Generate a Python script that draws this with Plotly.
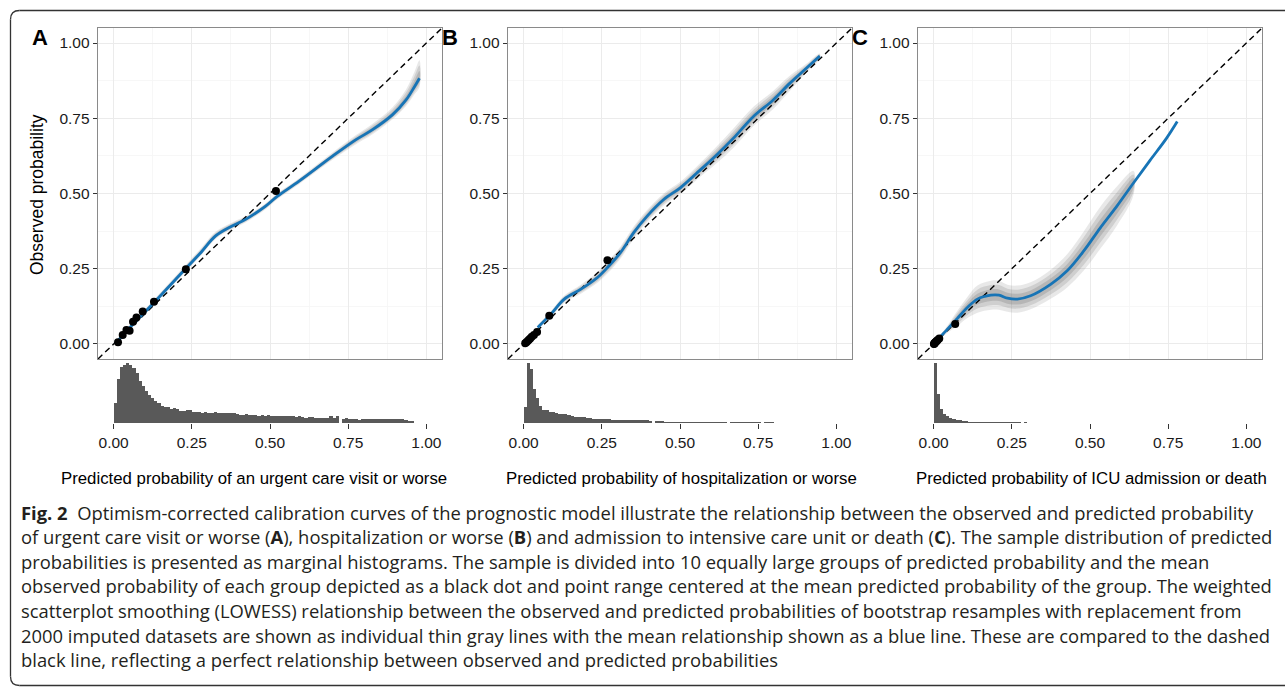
import plotly.graph_objects as go

W, H = 1285, 687

# ---------------- data ----------------
# Panel A: urgent care visit or worse
a_curve_x = [0.005, 0.05, 0.134, 0.23, 0.28, 0.326, 0.379, 0.422, 0.486, 0.524, 0.593, 0.70, 0.775, 0.828, 0.892, 0.935, 0.962, 0.978]
a_curve_y = [0.000, 0.052, 0.143, 0.250, 0.305, 0.359, 0.392, 0.414, 0.458, 0.491, 0.541, 0.624, 0.679, 0.712, 0.762, 0.811, 0.855, 0.883]
a_band_hi = [0.005, 0.008, 0.010, 0.012, 0.014, 0.014, 0.012, 0.010, 0.010, 0.010, 0.010, 0.012, 0.015, 0.020, 0.025, 0.035, 0.050, 0.060]
a_band_lo = [0.005, 0.008, 0.008, 0.010, 0.010, 0.010, 0.010, 0.010, 0.010, 0.010, 0.010, 0.012, 0.015, 0.015, 0.015, 0.020, 0.025, 0.030]
a_pts_x = [0.014, 0.029, 0.041, 0.051, 0.062, 0.073, 0.093, 0.129, 0.231, 0.519]
a_pts_y = [0.006, 0.030, 0.046, 0.044, 0.074, 0.088, 0.108, 0.140, 0.248, 0.508]
a_hist = [34, 73, 94, 97, 100, 97, 92, 83, 70, 61, 54, 47, 41, 37, 33, 29, 27, 26, 24, 25,
          24, 20, 20, 21, 22, 19, 18, 18, 17, 18, 17, 17, 18, 16, 17, 17, 16, 17, 16, 15,
          14, 14, 15, 14, 14, 13, 12, 13, 12, 13, 12, 11, 12, 11, 11, 12, 11, 11, 10, 11,
          10, 9, 10, 10, 9, 9, 8, 9, 8, 11, 8, 12, 0, 7, 9, 7, 7, 6, 5, 6,
          6, 6, 7, 6, 6, 6, 7, 6, 7, 6, 7, 6, 6, 5, 3, 3]

# Panel B: hospitalization or worse
b_curve_x = [0.045, 0.087, 0.13, 0.183, 0.236, 0.268, 0.31, 0.352, 0.395, 0.448, 0.501, 0.554, 0.618, 0.671, 0.735, 0.798, 0.851, 0.904, 0.947]
b_curve_y = [0.055, 0.099, 0.149, 0.182, 0.221, 0.254, 0.304, 0.370, 0.425, 0.480, 0.519, 0.568, 0.629, 0.684, 0.756, 0.811, 0.866, 0.916, 0.957]
b_band = [0.008, 0.010, 0.012, 0.015, 0.018, 0.020, 0.020, 0.020, 0.020, 0.020, 0.020, 0.022, 0.028, 0.032, 0.032, 0.030, 0.025, 0.015, 0.008]
b_pts_x = [0.005, 0.009, 0.013, 0.017, 0.021, 0.026, 0.033, 0.043, 0.082, 0.268]
b_pts_y = [0.002, 0.006, 0.010, 0.014, 0.018, 0.024, 0.030, 0.040, 0.094, 0.278]
b_hist = [27, 100, 90, 57, 41, 28, 22, 21, 19, 18, 17, 15.5, 14.5, 14.5, 13, 12, 10, 10, 10, 9.5,
          9, 8.5, 7, 7, 6, 6.5, 6, 6, 5.5, 5.5, 5.5, 5.5, 5.5, 5, 5.5, 5, 4.5, 5, 4.5, 5.5,
          4, 0, 3.5, 3.5, 3, 2.5, 2.5, 2, 2, 2, 1.5, 1.5, 1.5, 1.5, 1.5, 1.5, 1.5, 1.5, 2, 2,
          1.5, 2, 2, 1.5, 2, 0, 1.5, 1.5, 1.5, 1, 1, 1.5, 1, 1.5, 1.5, 1, 0, 1.5, 1.5, 1,
          0, 0, 0, 0, 0.8]

# Panel C: ICU admission or death
c_curve_x = [0.015, 0.045, 0.076, 0.108, 0.14, 0.183, 0.209, 0.236, 0.268, 0.31, 0.374, 0.427, 0.48, 0.533, 0.586, 0.639, 0.692, 0.745, 0.779]
c_curve_y = [0.017, 0.050, 0.085, 0.121, 0.149, 0.162, 0.162, 0.152, 0.149, 0.160, 0.198, 0.243, 0.309, 0.386, 0.458, 0.535, 0.610, 0.684, 0.739]
c_band = [0.005, 0.012, 0.025, 0.035, 0.045, 0.048, 0.048, 0.045, 0.045, 0.045, 0.048, 0.055, 0.065, 0.070, 0.065, 0.040]
c_pts_x = [0.001, 0.002, 0.003, 0.004, 0.006, 0.008, 0.010, 0.013, 0.018, 0.069]
c_pts_y = [0.000, 0.001, 0.002, 0.004, 0.006, 0.008, 0.010, 0.013, 0.018, 0.066]
c_hist = [100, 49, 24, 15.5, 11, 8.3, 6.7, 5.5, 4.4, 3.9, 3.3, 2.5, 2.2, 2, 1.8, 1.7, 1.5, 1.4, 1.3, 1.3,
          1.2, 1.1, 1.1, 1, 1, 1, 0.9, 0.9, 0.8, 0.9, 0.8, 0.8, 0.7, 0.6, 0.6, 0, 0.6, 0.5, 0.5, 0,
          0.5, 0, 0.4, 0, 0, 0.4]

bin_width = 0.01
tick_vals = [0, 0.25, 0.5, 0.75, 1.0]
tick_text = ["0.00", "0.25", "0.50", "0.75", "1.00"]
panel_letters = ["A", "B", "C"]
x_titles = ["Predicted probability of an urgent care visit or worse",
            "Predicted probability of hospitalization or worse",
            "Predicted probability of ICU admission or death"]
y_title = "Observed probability"
caption_lines = [
    "<b>Fig. 2</b>  Optimism-corrected calibration curves of the prognostic model illustrate the relationship between the observed and predicted probability",
    "of urgent care visit or worse (<b>A</b>), hospitalization or worse (<b>B</b>) and admission to intensive care unit or death (<b>C</b>). The sample distribution of predicted",
    "probabilities is presented as marginal histograms. The sample is divided into 10 equally large groups of predicted probability and the mean",
    "observed probability of each group depicted as a black dot and point range centered at the mean predicted probability of the group. The weighted",
    "scatterplot smoothing (LOWESS) relationship between the observed and predicted probabilities of bootstrap resamples with replacement from",
    "2000 imputed datasets are shown as individual thin gray lines with the mean relationship shown as a blue line. These are compared to the dashed",
    "black line, reflecting a perfect relationship between observed and predicted probabilities",
]

# ---------------- layout helpers ----------------
def fx(x):
    return x / W


def fy(y):
    return 1 - y / H


BLUE = "#1774b6"
FONT = "Liberation Sans, Arial, sans-serif"
CAP_FONT = "Open Sans, Noto Sans, sans-serif"
RANGE = [-0.05, 1.05]

panels = [
    dict(cx=a_curve_x, cy=a_curve_y, hi=a_band_hi, lo=a_band_lo, px=a_pts_x, py=a_pts_y, hist=a_hist, left=98, title_c=254),
    dict(cx=b_curve_x, cy=b_curve_y, hi=b_band, lo=b_band, px=b_pts_x, py=b_pts_y, hist=b_hist, left=508, title_c=681),
    dict(cx=c_curve_x, cy=c_curve_y, hi=c_band, lo=c_band, px=c_pts_x, py=c_pts_y, hist=c_hist, left=918, title_c=1091),
]
PW = 344
MAIN_TOP, MAIN_BOT = 28, 359
HIST_TOP, HIST_BOT = 363, 423

fig = go.Figure()
layout = dict(
    width=W, height=H, margin=dict(l=0, r=0, t=0, b=0),
    paper_bgcolor="white", plot_bgcolor="white", showlegend=False,
    bargap=0, hovermode=False,
)
annotations = []
shapes = []

for i, p in enumerate(panels):
    mi = 2 * i + 1
    hi_ = 2 * i + 2
    mx = "x" if mi == 1 else f"x{mi}"
    my = "y" if mi == 1 else f"y{mi}"
    hx = f"x{hi_}"
    hy = f"y{hi_}"
    dom_x = [fx(p["left"]), fx(p["left"] + PW)]

    # gray bootstrap band (soft layered fills)
    n = min(len(p["hi"]), len(p["cx"]))
    bx = p["cx"][:n]
    by = p["cy"][:n]
    for scale, alpha in [(1.0, 0.17), (0.7, 0.22), (0.4, 0.28)]:
        upper = [y + scale * h for y, h in zip(by, p["hi"][:n])]
        lower = [y - scale * l for y, l in zip(by, p["lo"][:n])]
        fig.add_trace(go.Scatter(
            x=bx + bx[::-1], y=upper + lower[::-1], fill="toself",
            fillcolor=f"rgba(120,120,120,{alpha})", line=dict(width=0, shape="spline"),
            mode="lines", hoverinfo="skip", xaxis=mx, yaxis=my))

    # diagonal reference
    fig.add_trace(go.Scatter(x=RANGE, y=RANGE, mode="lines",
                             line=dict(color="black", width=1.4, dash="6px,4px"),
                             xaxis=mx, yaxis=my))
    # mean calibration curve
    fig.add_trace(go.Scatter(x=p["cx"], y=p["cy"], mode="lines",
                             line=dict(color=BLUE, width=2.8, shape="spline"),
                             xaxis=mx, yaxis=my))
    # group points
    fig.add_trace(go.Scatter(x=p["px"], y=p["py"], mode="markers",
                             marker=dict(color="black", size=8),
                             xaxis=mx, yaxis=my))
    # histogram
    centers = [bin_width / 2 + bin_width * k for k in range(len(p["hist"]))]
    fig.add_trace(go.Bar(x=centers, y=p["hist"], width=bin_width,
                         marker=dict(color="#595959", line=dict(width=0)),
                         xaxis=hx, yaxis=hy))

    main_x_key = "xaxis" if mi == 1 else f"xaxis{mi}"
    main_y_key = "yaxis" if mi == 1 else f"yaxis{mi}"
    minor = dict(tickvals=[0.125, 0.375, 0.625, 0.875], showgrid=True, gridcolor="#f5f5f5", gridwidth=0.8)
    layout[main_x_key] = dict(
        domain=dom_x, range=RANGE, anchor=my, showticklabels=False, ticks="",
        showgrid=True, gridcolor="#ebebeb", gridwidth=1, zeroline=False,
        tickvals=tick_vals, showline=True, linecolor="#8a8a8a", linewidth=1.3, mirror=True,
        minor=minor,
    )
    layout[main_y_key] = dict(
        domain=[fy(MAIN_BOT), fy(MAIN_TOP)], range=RANGE, anchor=mx,
        tickvals=tick_vals, ticktext=tick_text, ticks="outside", ticklen=4,
        tickcolor="#333333", tickwidth=1,
        tickfont=dict(family=FONT, size=15.5, color="#1a1a1a"),
        showgrid=True, gridcolor="#ebebeb", gridwidth=1, zeroline=False,
        showline=True, linecolor="#8a8a8a", linewidth=1.3, mirror=True,
        minor=minor,
    )
    layout[f"xaxis{hi_}"] = dict(
        domain=dom_x, range=RANGE, anchor=hy, tickvals=tick_vals, ticktext=tick_text,
        ticks="outside", ticklen=5, tickcolor="#333333", tickwidth=1,
        tickfont=dict(family=FONT, size=15.5, color="#1a1a1a"),
        showgrid=False, zeroline=False, showline=False,
    )
    layout[f"yaxis{hi_}"] = dict(
        domain=[fy(HIST_BOT), fy(HIST_TOP)], range=[0, 100], anchor=hx,
        visible=False,
    )

    # panel letter
    annotations.append(dict(x=fx(p["left"] - 58), y=fy(38), xref="paper", yref="paper",
                            text=f"<b>{panel_letters[i]}</b>", showarrow=False,
                            font=dict(family=FONT, size=22, color="black"),
                            xanchor="center", yanchor="middle"))
    # x title
    annotations.append(dict(x=fx(p["title_c"]), y=fy(478), xref="paper", yref="paper",
                            text=x_titles[i], showarrow=False,
                            font=dict(family=FONT, size=16.8, color="black"),
                            xanchor="center", yanchor="middle"))

# y title
annotations.append(dict(x=fx(37), y=fy(195), xref="paper", yref="paper", text=y_title,
                        showarrow=False, textangle=-90,
                        font=dict(family=FONT, size=17.5, color="black"),
                        xanchor="center", yanchor="middle"))

# caption
for k, line in enumerate(caption_lines):
    annotations.append(dict(x=fx(19), y=fy(512 + 24.6 * k), xref="paper", yref="paper",
                            text=line, showarrow=False, align="left",
                            font=dict(family=CAP_FONT, size=18.4, color="#231f20"),
                            xanchor="left", yanchor="middle"))

# outer rounded frame (open on the right): straight segments + corner arcs
FRAME = dict(color="#333333", width=1.3)
L, T, B, r = 10.5, 10.5, 685.5, 9
shapes.append(dict(type="line", xref="paper", yref="paper", x0=fx(L + r), x1=1.0,
                   y0=fy(T), y1=fy(T), line=FRAME))
shapes.append(dict(type="line", xref="paper", yref="paper", x0=fx(L), x1=fx(L),
                   y0=fy(T + r), y1=fy(B - r), line=FRAME))
shapes.append(dict(type="line", xref="paper", yref="paper", x0=fx(L + r), x1=1.0,
                   y0=fy(B), y1=fy(B), line=FRAME))
shapes.append(dict(type="path", xref="paper", yref="paper",
                   path=f"M {fx(L + r)},{fy(T)} Q {fx(L)},{fy(T)} {fx(L)},{fy(T + r)}",
                   line=FRAME))
shapes.append(dict(type="path", xref="paper", yref="paper",
                   path=f"M {fx(L)},{fy(B - r)} Q {fx(L)},{fy(B)} {fx(L + r)},{fy(B)}",
                   line=FRAME))

layout["annotations"] = annotations
layout["shapes"] = shapes
fig.update_layout(**layout)

fig.write_html(
    "out.html", config={"displayModeBar": False, "staticPlot": True},
    post_script=("document.body.style.margin='0';document.body.style.overflow='hidden';"
                 "document.querySelectorAll('*').forEach(function(e){e.style.outline='none';});"))
